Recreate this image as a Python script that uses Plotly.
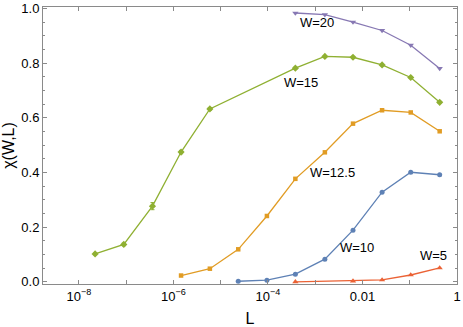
import math
import plotly.graph_objects as go

# L grid
L_w5 = [3.8e-4, 6.3e-3, 2.6e-2, 0.105, 0.43]
chi_w5 = [0.0, 0.003, 0.007, 0.025, 0.051]

L_w10 = [2.35e-5, 9.5e-5, 3.8e-4, 1.6e-3, 6.3e-3, 2.6e-2, 0.105, 0.43]
chi_w10 = [0.002, 0.006, 0.028, 0.083, 0.189, 0.328, 0.401, 0.392]

L_w125 = [1.45e-6, 5.9e-6, 2.35e-5, 9.5e-5, 3.8e-4, 1.6e-3, 6.3e-3, 2.6e-2, 0.105, 0.43]
chi_w125 = [0.023, 0.048, 0.119, 0.241, 0.377, 0.474, 0.579, 0.628, 0.620, 0.551]

L_w15 = [2.2e-8, 8.9e-8, 3.6e-7, 1.45e-6, 5.9e-6, 3.8e-4, 1.6e-3, 6.3e-3, 2.6e-2, 0.105, 0.43]
chi_w15 = [0.102, 0.137, 0.277, 0.475, 0.633, 0.782, 0.825, 0.822, 0.794, 0.748, 0.657]
err_w15 = [0.003, 0.005, 0.013, 0.006, 0.005, 0.004, 0.003, 0.003, 0.003, 0.003, 0.003]

L_w20 = [3.8e-4, 1.6e-3, 6.3e-3, 2.6e-2, 0.105, 0.43]
chi_w20 = [0.984, 0.978, 0.951, 0.920, 0.866, 0.781]

x_tickvals = [1e-8, 1e-6, 1e-4, 1e-2, 1]
x_ticktext = ["10<sup>−8</sup>", "10<sup>−6</sup>", "10<sup>−4</sup>", "0.01", "1"]
x_minorvals = [1e-9, 1e-7, 1e-5, 1e-3, 1e-1]

labels = ["W=20", "W=15", "W=12.5", "W=10", "W=5"]
label_L = [1.1e-3, 5.0e-4, 2.3e-3, 7.8e-3, 0.32]
label_chi = [0.949, 0.729, 0.401, 0.124, 0.097]

series = [
    (L_w10, chi_w10, None, "#5E81B5", "circle", 5),
    (L_w125, chi_w125, None, "#E19C24", "square", 4.5),
    (L_w15, chi_w15, err_w15, "#8FB032", "diamond", 5.5),
    (L_w5, chi_w5, None, "#EB6235", "triangle-up", 5.5),
    (L_w20, chi_w20, None, "#8778B3", "triangle-down", 5.5),
]

fig = go.Figure()
for xs, ys, err, color, symbol, size in series:
    fig.add_trace(go.Scatter(
        x=xs, y=ys, mode="lines+markers",
        line=dict(color=color, width=1.3),
        marker=dict(color=color, symbol=symbol, size=size),
        error_y=dict(type="data", array=err, color=color, thickness=1, width=2, visible=err is not None),
        showlegend=False,
    ))

# annotations on a log axis take log10 positions
for txt, lx, ly in zip(labels, label_L, label_chi):
    fig.add_annotation(x=math.log10(lx), y=ly, xref="x", yref="y", text=txt, showarrow=False,
                       font=dict(size=13, color="black"))

frame = "#8a8a8a"
fig.update_layout(
    width=463, height=327,
    margin=dict(l=43, r=6, t=7, b=43),
    plot_bgcolor="white", paper_bgcolor="white",
    font=dict(family="Liberation Sans, Arial, sans-serif", size=13, color="black"),
)
fig.update_xaxes(
    type="log", range=[-8.76, 0], automargin=False,
    tickvals=x_tickvals, ticktext=x_ticktext,
    ticks="inside", ticklen=4, tickcolor=frame,
    minor=dict(tickvals=x_minorvals, ticks="inside", ticklen=4, tickcolor=frame),
    showline=True, linecolor=frame, linewidth=1, mirror="ticks",
    showgrid=False, zeroline=False,
    title=dict(text="L", standoff=10),
)
fig.update_yaxes(
    range=[-0.008, 1.006], automargin=False,
    tickvals=[0, 0.2, 0.4, 0.6, 0.8, 1.0], ticktext=["0.0", "0.2", "0.4", "0.6", "0.8", "1.0"],
    ticks="inside", ticklen=4, tickcolor=frame,
    minor=dict(dtick=0.05, tick0=0, ticks="inside", ticklen=2, tickcolor=frame),
    showline=True, linecolor=frame, linewidth=1, mirror="ticks",
    showgrid=False, zeroline=False,
    title=dict(text="χ(W,L)", standoff=6),
)

fig.write_html(
    "out.html",
    config={"displayModeBar": False},
    post_script="document.body.style.margin='0';document.body.style.overflow='hidden';",
)
